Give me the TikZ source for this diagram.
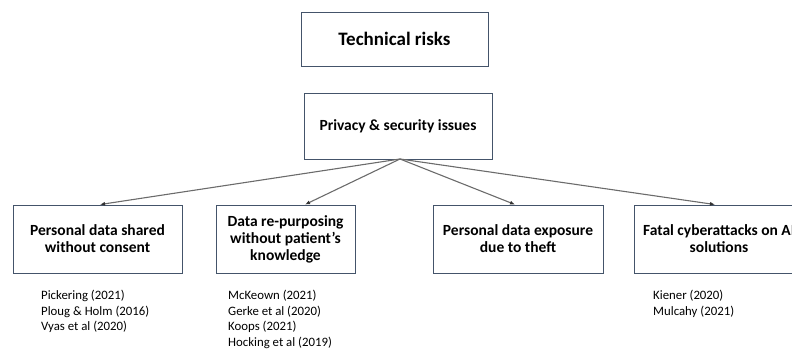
\documentclass[tikz,border=0pt]{standalone}
\usepackage{fontspec}
\setmainfont{Carlito}
\usetikzlibrary{arrows.meta}
\definecolor{boxline}{HTML}{44546A}
\definecolor{linkgray}{HTML}{6B6B6B}
\tikzset{
  riskbox/.style={draw=boxline, line width=0.9pt, fill=white, align=center,
    font=\bfseries\fontsize{15.5}{17}\selectfont, text=black, inner sep=0pt},
  link/.style={draw=linkgray, line width=1.1pt, -{Latex[length=5pt,width=4pt,color=black!80]}},
  refs/.style={anchor=north west, align=left, font=\fontsize{12.8}{15.5}\selectfont, inner sep=0pt}
}
\begin{document}
\begin{tikzpicture}[x=1pt,y=-1pt]
  \useasboundingbox (0,0) rectangle (792,352);
  \clip (0,0) rectangle (792,352);
  % top level boxes
  \node[riskbox, minimum width=187pt, minimum height=54pt, font=\bfseries\fontsize{19}{22}\selectfont]
    (tech) at (394.5,39) {Technical risks};
  \node[riskbox, minimum width=188pt, minimum height=66pt] (priv) at (398,126) {Privacy \& security issues};
  % risk categories
  \node[riskbox, minimum width=169pt, minimum height=68pt] (shared) at (97.5,239) {Personal data shared\\without consent};
  \node[riskbox, minimum width=139pt, minimum height=68pt] (repurp) at (285.5,239) {Data re-purposing\\without patient’s\\knowledge};
  \node[riskbox, minimum width=170pt, minimum height=68pt] (theft) at (518,239) {Personal data exposure\\due to theft};
  \node[riskbox, minimum width=170pt, minimum height=68pt] (cyber) at (719,239) {Fatal cyberattacks on AI\\solutions};
  % connectors
  \coordinate (hub) at (400,159);
  \draw[link] (hub) -- (shared.north -| 100,0);
  \draw[link] (hub) -- (repurp.north -| 305,0);
  \draw[link] (hub) -- (theft.north -| 515,0);
  \draw[link] (hub) -- (cyber.north -| 715,0);
  % references
  \node[refs] (r1) at (41,290) {Pickering (2021)\\Ploug \& Holm (2016)\\Vyas et al (2020)};
  \node[refs] (r2) at (228,290) {McKeown (2021)\\Gerke et al (2020)\\Koops (2021)\\Hocking et al (2019)};
  \node[refs] (r4) at (653,290) {Kiener (2020)\\Mulcahy (2021)};
\end{tikzpicture}
\end{document}
